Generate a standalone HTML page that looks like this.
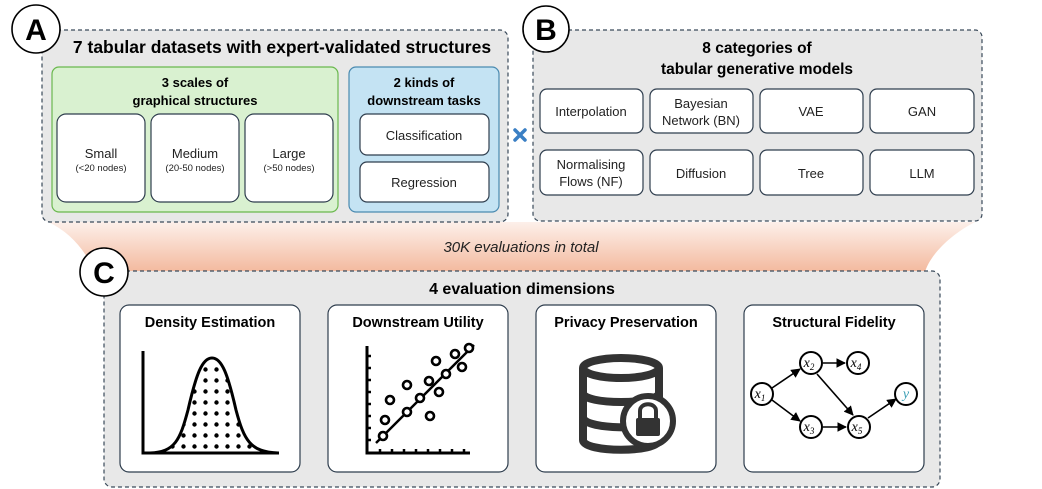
<!DOCTYPE html>
<html><head><meta charset="utf-8"><style>
body{margin:0;background:#fff;}
svg{display:block;font-family:"Liberation Sans",sans-serif;}
</style></head><body>
<svg width="1042" height="489" viewBox="0 0 1042 489" xmlns="http://www.w3.org/2000/svg">
<defs>
<linearGradient id="og" x1="0" y1="0" x2="0" y2="1">
<stop offset="0" stop-color="#fdf0ea"/><stop offset="1" stop-color="#f3b99e"/>
</linearGradient>
<pattern id="dots" x="2" y="1" width="11" height="11" patternUnits="userSpaceOnUse"><circle cx="5.5" cy="5.5" r="2.2" fill="#000"/></pattern>
<marker id="ar" viewBox="0 0 10 10" refX="9" refY="5" markerWidth="6" markerHeight="6" orient="auto"><path d="M0,0 L10,5 L0,10 z" fill="#000"/></marker>
</defs>
<path d="M48,222 L975,222 C950,235 930,255 925,272 L95,272 C85,250 70,232 48,222 Z" fill="url(#og)"/>
<text x="521" y="252" text-anchor="middle" font-size="15" font-style="italic" fill="#222">30K evaluations in total</text>

<rect x="42" y="30" width="466" height="192" rx="8" fill="#e8e8e8" stroke="#3a4a5a" stroke-width="1.2" stroke-dasharray="4,3"/>
<text x="282" y="53" text-anchor="middle" font-size="17.5" font-weight="bold">7 tabular datasets with expert-validated structures</text>
<rect x="52" y="67" width="286" height="145" rx="7" fill="#d9f1d0" stroke="#6ab84e" stroke-width="1.2"/>
<text x="195" y="87" text-anchor="middle" font-size="13" font-weight="bold">3 scales of</text>
<text x="195" y="105" text-anchor="middle" font-size="13" font-weight="bold">graphical structures</text>
<g fill="#fff" stroke="#2f3e4e" stroke-width="1.2">
<rect x="57" y="114" width="88" height="88" rx="9"/><rect x="151" y="114" width="88" height="88" rx="9"/><rect x="245" y="114" width="88" height="88" rx="9"/>
</g>
<g text-anchor="middle" fill="#222">
<text x="101" y="158" font-size="13">Small</text><text x="101" y="171" font-size="9.5">(&lt;20 nodes)</text>
<text x="195" y="158" font-size="13">Medium</text><text x="195" y="171" font-size="9.5">(20-50 nodes)</text>
<text x="289" y="158" font-size="13">Large</text><text x="289" y="171" font-size="9.5">(&gt;50 nodes)</text>
</g>
<rect x="349" y="67" width="150" height="145" rx="7" fill="#c4e3f3" stroke="#4a8ab0" stroke-width="1.2"/>
<text x="424" y="87" text-anchor="middle" font-size="13" font-weight="bold">2 kinds of</text>
<text x="424" y="105" text-anchor="middle" font-size="13" font-weight="bold">downstream tasks</text>
<rect x="360" y="114" width="129" height="41" rx="7" fill="#fff" stroke="#2f3e4e" stroke-width="1.2"/>
<rect x="360" y="162" width="129" height="40" rx="7" fill="#fff" stroke="#2f3e4e" stroke-width="1.2"/>
<text x="424" y="140" text-anchor="middle" font-size="13" fill="#222">Classification</text>
<text x="424" y="187" text-anchor="middle" font-size="13" fill="#222">Regression</text>
<circle cx="36" cy="29" r="24" fill="#fff" stroke="#000" stroke-width="1.6"/>
<text x="36" y="40" text-anchor="middle" font-size="30" font-weight="bold">A</text>

<rect x="533" y="30" width="449" height="191" rx="7" fill="#e8e8e8" stroke="#3a4a5a" stroke-width="1.2" stroke-dasharray="4,3"/>
<text x="757" y="53" text-anchor="middle" font-size="15.5" font-weight="bold">8 categories of</text>
<text x="757" y="74" text-anchor="middle" font-size="15.5" font-weight="bold">tabular generative models</text>
<g fill="#fff" stroke="#2f3e4e" stroke-width="1.2">
<rect x="540" y="89" width="103" height="44" rx="7"/><rect x="650" y="89" width="103" height="44" rx="7"/><rect x="760" y="89" width="103" height="44" rx="7"/><rect x="870" y="89" width="104" height="44" rx="7"/>
<rect x="540" y="150" width="103" height="45" rx="7"/><rect x="650" y="150" width="103" height="45" rx="7"/><rect x="760" y="150" width="103" height="45" rx="7"/><rect x="870" y="150" width="104" height="45" rx="7"/>
</g>
<g text-anchor="middle" font-size="13" fill="#222">
<text x="591" y="116">Interpolation</text>
<text x="701" y="108">Bayesian</text><text x="701" y="125">Network (BN)</text>
<text x="811" y="116">VAE</text><text x="922" y="116">GAN</text>
<text x="591" y="169">Normalising</text><text x="591" y="186">Flows (NF)</text>
<text x="701" y="178">Diffusion</text><text x="811" y="178">Tree</text><text x="922" y="178">LLM</text>
</g>
<circle cx="546" cy="29" r="23" fill="#fff" stroke="#000" stroke-width="1.6"/>
<text x="546" y="40" text-anchor="middle" font-size="30" font-weight="bold">B</text>
<g stroke="#3a7fc4" stroke-width="3.5" stroke-linecap="round"><line x1="515" y1="130" x2="525" y2="140"/><line x1="525" y1="130" x2="515" y2="140"/></g>

<rect x="104" y="271" width="836" height="216" rx="8" fill="#e8e8e8" stroke="#3a4a5a" stroke-width="1.2" stroke-dasharray="4,3"/>
<text x="522" y="294" text-anchor="middle" font-size="16" font-weight="bold">4 evaluation dimensions</text>
<g fill="#fff" stroke="#2f3e4e" stroke-width="1.2">
<rect x="120" y="305" width="180" height="167" rx="9"/><rect x="328" y="305" width="180" height="167" rx="9"/><rect x="536" y="305" width="180" height="167" rx="9"/><rect x="744" y="305" width="180" height="167" rx="9"/>
</g>
<g text-anchor="middle" font-size="14.5" font-weight="bold">
<text x="210" y="327">Density Estimation</text><text x="418" y="327">Downstream Utility</text>
<text x="626" y="327">Privacy Preservation</text><text x="834" y="327">Structural Fidelity</text>
</g>
<circle cx="104" cy="272" r="24" fill="#fff" stroke="#000" stroke-width="1.6"/>
<text x="104" y="283" text-anchor="middle" font-size="30" font-weight="bold">C</text>

<path d="M150,453 C175,452 180,440 188,410 C196,375 202,358 212,358 C222,358 228,375 236,410 C244,440 250,452 278,453 Z" fill="url(#dots)"/>
<path d="M150,453 C175,452 180,440 188,410 C196,375 202,358 212,358 C222,358 228,375 236,410 C244,440 250,452 278,453" fill="none" stroke="#000" stroke-width="3"/>
<path d="M143,351 L143,453 L279,453" fill="none" stroke="#000" stroke-width="3"/>

<path d="M367,346 L367,453 L470,453" fill="none" stroke="#000" stroke-width="3"/>
<g stroke="#000" stroke-width="2.5">
<line x1="367" y1="356" x2="371" y2="356"/><line x1="367" y1="368" x2="371" y2="368"/><line x1="367" y1="380" x2="371" y2="380"/><line x1="367" y1="392" x2="371" y2="392"/><line x1="367" y1="404" x2="371" y2="404"/><line x1="367" y1="416" x2="371" y2="416"/><line x1="367" y1="428" x2="371" y2="428"/><line x1="367" y1="440" x2="371" y2="440"/>
<line x1="380" y1="449" x2="380" y2="453"/><line x1="392" y1="449" x2="392" y2="453"/><line x1="404" y1="449" x2="404" y2="453"/><line x1="416" y1="449" x2="416" y2="453"/><line x1="428" y1="449" x2="428" y2="453"/><line x1="440" y1="449" x2="440" y2="453"/><line x1="452" y1="449" x2="452" y2="453"/><line x1="464" y1="449" x2="464" y2="453"/>
<line x1="376" y1="443" x2="474" y2="345"/>
</g>
<g fill="#fff" stroke="#000" stroke-width="2.6">
<circle cx="383" cy="436" r="4"/><circle cx="385" cy="420" r="4"/><circle cx="390" cy="400" r="4"/><circle cx="407" cy="385" r="4"/><circle cx="407" cy="412" r="4"/><circle cx="420" cy="398" r="4"/><circle cx="430" cy="416" r="4"/><circle cx="429" cy="381" r="4"/><circle cx="439" cy="392" r="4"/><circle cx="436" cy="361" r="4"/><circle cx="446" cy="374" r="4"/><circle cx="455" cy="354" r="4"/><circle cx="462" cy="367" r="4"/><circle cx="469" cy="348" r="4"/>
</g>

<g fill="none" stroke="#333" stroke-width="8">
<ellipse cx="621" cy="368" rx="38" ry="10"/>
<path d="M583,368 L583,440 C583,453 659,453 659,440 L659,368"/>
<path d="M583,393 C583,405 659,405 659,393"/>
<path d="M583,417 C583,429 640,429 650,425"/>
</g>
<circle cx="648" cy="421" r="25" fill="#fff" stroke="#333" stroke-width="6"/>
<rect x="636" y="418" width="24" height="18" rx="2" fill="#333"/>
<path d="M640,418 L640,411 C640,402 656,402 656,411 L656,418" fill="none" stroke="#333" stroke-width="4"/>

<g stroke="#000" stroke-width="1.6" fill="none" marker-end="url(#ar)">
<line x1="772" y1="388" x2="800" y2="369"/><line x1="772" y1="400" x2="800" y2="421"/>
<line x1="823" y1="363" x2="845" y2="363"/><line x1="817" y1="374" x2="853" y2="415"/>
<line x1="823" y1="427" x2="846" y2="427"/><line x1="868" y1="418" x2="896" y2="399"/>
</g>
<g fill="#fff" stroke="#000" stroke-width="2">
<circle cx="762" cy="394" r="11"/><circle cx="811" cy="363" r="11"/><circle cx="858" cy="363" r="11"/><circle cx="811" cy="427" r="11"/><circle cx="859" cy="427" r="11"/><circle cx="906" cy="394" r="11"/>
</g>
<g font-family="Liberation Serif,serif" font-style="italic" font-size="14" text-anchor="middle">
<text x="760" y="398">x<tspan font-size="9" dy="3">1</tspan></text>
<text x="809" y="367">x<tspan font-size="9" dy="3">2</tspan></text>
<text x="856" y="367">x<tspan font-size="9" dy="3">4</tspan></text>
<text x="809" y="431">x<tspan font-size="9" dy="3">3</tspan></text>
<text x="857" y="431">x<tspan font-size="9" dy="3">5</tspan></text>
<text x="906" y="398" fill="#3a9fb5">y</text>
</g>
</svg>
</body></html>
